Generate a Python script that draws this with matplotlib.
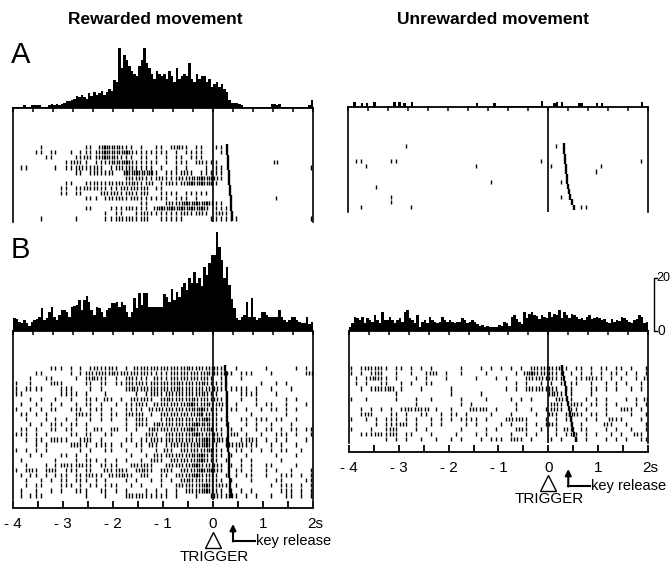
import numpy as np
import matplotlib
matplotlib.use('Agg')
import matplotlib.pyplot as plt

plt.rcParams['font.family'] = ['Liberation Sans', 'DejaVu Sans']

# ---- histograms (0.05 s bins from -4 s to 2 s, imp/s) ----
a_rew_hist = [
    0.5, 0.5, 0.5, 0.5, 1, 0.5, 0.5, 1, 1, 1, 1, 0.5, 0.5, 0.5, 1, 1.5, 1, 1.5, 1, 1.5,
    2, 2.5, 2.5, 3, 3.5, 4.5, 4, 5, 4, 3.5, 5.5, 4.5, 6, 5, 5.5, 6.5, 5, 6, 7, 6.5,
    10.5, 10, 22.6, 15, 20, 18, 16, 14, 13, 12, 16, 18, 22.6, 17, 15, 13, 11, 14, 13, 12,
    13, 11, 14, 12, 10, 15, 11, 12, 13, 12, 17, 11, 10, 13, 11, 12, 12, 10, 11, 8,
    9, 10, 8, 9, 7, 6, 3, 2, 2, 2, 1.5, 1, 0.5, 0.5, 0.5, 0.5, 0.5, 0.5, 0.5, 0.5,
    0.5, 0.5, 0.5, 1.5, 1.5, 1, 1.5, 0.5, 0.5, 0.5, 0.5, 0.5, 0.5, 0.5, 0.5, 0.5, 0.5, 0.5, 1, 3,
]
a_unrew_hist = [
    0, 0, 1.8, 0, 0, 1.5, 0, 1.5, 0, 0, 1.8, 0, 0, 0, 0, 0, 0, 0, 1.8, 0,
    1.8, 0, 1.5, 0, 0, 2, 0, 0, 0, 0, 0, 0, 0, 0, 0, 0, 0, 0, 0, 0,
    0, 0, 0, 0, 0, 0, 0, 0, 0, 0, 0, 1.5, 0, 0, 0, 0, 0, 0, 1.5, 0,
    0.3, 0.3, 0.3, 0.3, 0.3, 0.3, 0.3, 0.3, 0.3, 0.3, 0.3, 0.3, 0.3, 0.3, 0.3, 0.3, 0.3, 2.2, 0, 0,
    0, 0, 1.5, 1.8, 0, 2, 0, 0, 0, 0, 0, 0, 1.5, 1.5, 0, 0, 0, 0, 0, 1.5,
    0, 1.5, 0, 0, 0, 0, 0, 0, 0, 0, 0, 0, 0, 0, 0, 0, 0, 1.8, 0, 0,
]
b_rew_hist = [
    5, 4.5, 3.5, 3, 4, 3, 2, 3.5, 4, 4.5, 5.4, 8.8, 4, 5, 7.3, 9, 5.4, 4, 6, 8,
    8, 7, 5.4, 9.2, 9.4, 10, 11.7, 8, 11.7, 13.2, 11, 8, 6, 9, 8.6, 7, 5.4, 8, 8.6, 10.4,
    10.4, 11, 9.2, 11, 9.8, 7, 5.4, 7.3, 12.3, 8.6, 14.2, 9.8, 14.5, 14.5, 9, 9, 9, 9, 9, 9,
    14, 13, 11, 16, 11.7, 14.8, 13, 16.7, 18.2, 15.5, 19.9, 18, 22.4, 18, 19.9, 17, 24.3, 21, 25.5, 28.7,
    28.7, 37.5, 31.8, 26.8, 20, 24.3, 17.4, 12, 8.6, 4.8, 4.1, 5.4, 6, 11, 5.4, 12.3, 5.4, 4.1, 5, 7.3,
    7.3, 6, 5.2, 5.2, 5.2, 5.2, 8, 5.4, 4, 3.5, 4.1, 5.2, 5.2, 4.1, 3.5, 3, 2.9, 5.2, 2.6, 3.5,
]
b_unrew_hist = [
    1.6, 2.9, 5.4, 4.8, 4.0, 5.2, 2.9, 4.8, 4.1, 3.5, 6.0, 4.1, 3.0, 7.3, 4.0, 4.1, 5.2, 4.1, 3.0, 4.1,
    4.8, 3.5, 7.3, 8.0, 5.0, 4.1, 3.2, 6.0, 1.6, 3.5, 4.1, 2.9, 5.2, 4.1, 3.5, 3.0, 3.5, 5.4, 4.0, 3.5,
    4.1, 3.5, 2.9, 3.5, 3.5, 4.8, 4.1, 2.9, 3.5, 4.1, 3.5, 2.5, 1.9, 2.2, 1.6, 1.8, 1.6, 1.5, 1.4, 1.4,
    2.3, 1.9, 3.5, 2.9, 2.0, 5.2, 6.0, 4.5, 3.5, 2.6, 7.3, 5.0, 6.5, 7.3, 6.0, 5.5, 4.5, 6.0, 5.4, 5.0,
    7.3, 5.4, 6.5, 6.0, 8.0, 5.0, 7.3, 6.0, 4.8, 6.5, 6.0, 5.2, 4.5, 4.8, 4.1, 5.4, 6.0, 4.4, 4.8, 5.4,
    5.0, 4.1, 4.5, 3.5, 3.2, 4.5, 3.5, 4.1, 3.8, 5.4, 4.8, 4.1, 3.5, 3.0, 4.1, 4.5, 6.0, 5.4, 2.9, 3.5,
]

# ---- rasters: one string per trial, 0.1 s per char from -4 s; '|'=1, ':'=2, '#'=3 spikes ----
a_rew_rows = [
    ".....|.... ....||.:#: ::||.|..|| .|::|.||.. ||........ ..........",
    "....||.||. .|.||||:#: ::#:|||||| |.|.||||.. .|........ ..........",
    "......||.. ..||:||:#: :|||.||.|. |.||.|||.. .......... ..........",
    ".......... ||:||.|||: ::#:|||||. |.|||.|:|| |......... ..:.......",
    ".||.....|. |||:||:|.| |:|:||||.| ..|.|...|. ||........ .........|",
    ".......... ..||.|:||: ..#:#::#|. ||||:|.||| ||........ ..........",
    ".......... .......... ..|:|:|||: |||:|::#:# :|........ ..........",
    ".......... ||..||:||: |:|::||:.| |:||:#:#:# |......... ..........",
    ".........| |.||:|:||| ||:|:|:.|| .......... .......... ..........",
    ".........| |.||...|:| :||:||:..| |||.|||||. .......... ..........",
    ".......... ....|||.|: |:||:||||| |.|||.|... .......... ..|.......",
    ".......... .......... .....||... |:|:#:#:#: ||........ ..........",
    ".......... ....||...| |||:|||.:# :#:#:#:#:. |||....... ..........",
    ".......... ........|. ||..||:||| ||||:||:|. |:||...... ..........",
    ".....|.... ..|.....|| |:|:||:..| ||||.....| |||||..... .........|",
]
a_rew_release = [0.27, 0.28, 0.29, 0.29, 0.30, 0.31, 0.32, 0.32, 0.33, 0.34, 0.35, 0.35, 0.36, 0.37, 0.38]

a_unrew_rows = [
    ".......... .|........ .......... .......... .|........ ..........",
    ".......... .......... .......... .......... .......... ..........",
    ".......... .......... .......... .......... .......... ..........",
    ".||.....|| .......... .......... ........|. .......... ........|.",
    "...|...... .......... .....|.... .......... |......... |.........",
    ".......... .......... .......... .......... .........| ..........",
    ".......... .......... .......... .......... .......... ..........",
    ".......... .......... ........|. .......... ..|....... ..........",
    ".....|.... .......... .......... .......... .......... ..........",
    ".......... .......... .......... .......... .......... ..........",
    "........|. .......... .......... .......... ..|....... ..........",
    "........|. .......... .......... .......... .......... ..........",
    "..|....... ..|....... .......... .......... ......||.. ..........",
]
a_unrew_release = [0.31, 0.32, 0.33, 0.34, 0.35, 0.36, 0.37, 0.38, 0.40, 0.42, 0.44, 0.48, 0.52]

b_rew_rows = [
    ".......||| .|.|.|:||: |.|.:|:|:| :|:|::|:|: :|..|..... |.....|.|.",
    "....||.... .|.||:|:|: :|:|:|:||| ||:|:|:|:: :|:|.|||.. .|......|:",
    "...|..||.. ..|.|::||. |.|:|||.:| ||:|:|:|:| .|...|.... ..........",
    "|..|...|:| ....||.||. |||:|:||:| :|::|:|::| |||......| ..|.|.....",
    "|.||||...| ||...|.|.. ..|::|:|:| :|::|:|:|: :|.||||.|. .|...|....",
    "||.......| |||.|...|. ....|.||:| |:|:|:|::| |.|..||||. ..|.......|",
    "...|.|..|. .|..|||.:| .|.|:|:|.| ::|:|::|:| :||..|..|. ....|.|...",
    ".|..|..|.| ..|.||.|.. |.|||:|.:| :|:|:#:|:: |:|.|...|. ||..|...|.",
    "|..|.|.||. .|||.|||.| ..||||.:|: |:|:|::#:| ||.||.|..| .||.|.|...",
    ".||.|.|... ..|:||.|.| |.|:|:.|.| :|:|:|:#|: |......|.. ....|.....",
    "..|...|.|. |.|..|.|.| ..|.|:|..| |:|:|:|:#: ||...||.|| |.||..|...",
    "...|.|.||| .||.|..... ..|.|:|.:: |:|:|:#::: |.|...|.|. .|...|....",
    ".||.|..||. ||..|.:|.| :.|.|..::| :|:|:#:|:# ||.|.|..|. ||.|.||.||",
    "|||.|.|... .||.||..|| ...|..|:|. |:|:|:#:|: :|.|:.|..| ..|||.|..|",
    "..|.||.|:| |..|:|.|.. ..||.|||:| |:|:|:|:#: ::|..||:|. |.|.|...|.",
    "....|.|... .|:||.|||| .|..||.:|. ||:|:|::#: |.|:|:|||. .|.|..|...",
    "|.|.|.|... ...|.|..|| ..|..|..|. :|.|:|:|:# ||..||.|.| .|.||..|..",
    "...|.|...| |.|.|..... ...|..|.:| |:|:|::#:| ||.|..|... ..|...|...",
    ".|......|. ..|.|||.|. |.|..|.|:| .|:|:|:#:| |.|..|.|.. ...|......",
    "..|...|.|| :||:||.||| |..|:|:|.. |:|:|:#:|: :|.|.|.|.. ||....|...",
    "|.|:|.|:|. |||.||..:| |:|.|::|.| :|.|:|:#:# :|..||.|.. |.|..|...|",
    ".|.||.|.|| |.|||:||.: |::|.|:..| |.|:|:#:|: |.|.|.||.. |..|||.|.|",
    "..|..|.|.| |.|||.|.|. ..|.|..|.| .|.|::|:|: ||.|...|.. ..||....||",
    "..|.||...| ||.|.||.|| |..|.|...| ..|:|:|:#: |:|.|..... .|.|||.|.|",
    ".|..|..|.| ..|||..||. |.|...|.|. |.|.|:|:#: ||.|.|.|.. ...|||.|.|",
    ".|.|||.... ....|...|. ..|:|:|||| |.|...|..| :||:|.|.|. .|..||.|.|",
]
b_rew_release = [0.24, 0.25, 0.25, 0.26, 0.26, 0.27, 0.27, 0.27, 0.28, 0.28, 0.28, 0.29, 0.29,
                 0.29, 0.30, 0.30, 0.30, 0.31, 0.31, 0.31, 0.32, 0.32, 0.33, 0.33, 0.34, 0.35]

b_unrew_rows = [
    "|.|:|:||.| |.|.|.|... ..|...|.|. |.|.|.|:|: :|:|.||.|. ||.||.|..|",
    "|.|.|:|..| ..|..|:|.| ..|....|.. ...|.:#:|: :||.|.|.|. |.||.|.|.|",
    ".|.|::||.| ...|.|...| .....|...| .|...|:|:| :||..|||:| |.|.|..|.:",
    ".|.|..||.. |.|..||... .......... ...|.|..|. |.|.||..|. .|.|.|..|.",
    "..|.|:|::. |...|..... |......... .|.|.|:|:| :|.||...|| .|.|..|.|.",
    ".........| .......... |.....|... .......... ::|.|...|. ..........",
    "|..|.....| ...|..|... ..|....|.. ..|.|.|... .|:||..|.| .|...|.|.:",
    ".......... ...|...... ..|.|..... ...|...... |:|.|:|.|| .|.|...|.|",
    "..|.|.|.|. |:|:|:.|.. |...:|:|.| ...|..|..| |:|.||.|.. .|..|:|.|.",
    "..|:|...|| .|..||..|. ||.|....|. ..|....|.. :|.|::|.|| .|....|..|",
    "|..|.|.||| .|.|..|.|. |.||||.|.. .|:|:|...| .|.||..|.| ..:||...|.",
    ".....|.||| :|.|..|.|. ...|.|.... |.|..|.|.| :|..|.|... .:|..|...|",
    "|...|..|:| ...|.|.... ..|....|.| ...|:|..|. .|.:|.||.. .|.|..|..|",
    "..|||:||:| .||...|... .|...|.|.. ..|..|.|.. .|.|||.|.| ..|.|..:|.",
    ".......|.| .|..|..|.. |.|...|.|| |.|:|.|... |.|..|.|.. .|.|.|..||",
]
b_unrew_release = [0.28, 0.30, 0.31, 0.33, 0.35, 0.36, 0.38, 0.40, 0.42, 0.44, 0.46, 0.48, 0.50, 0.52, 0.55]

time_labels = ['- 4', '- 3', '- 2', '- 1', '0', '1', '2s']
time_label_pos = [-4, -3, -2, -1, 0, 1, 2]

W, H = 670, 568
fig = plt.figure(figsize=(W / 100, H / 100), dpi=100)

BIN = 0.05
PX_PER_UNIT = 2.65
ROW_STEP = 5.1


def box(x0, y0, x1, y1):
    return fig.add_axes([x0 / W, 1 - y1 / H, (x1 - x0) / W, (y1 - y0) / H])


def spike_times(row):
    s = row.replace(' ', '').ljust(60, '.')[:60]
    out = []
    for i, c in enumerate(s):
        n = {'|': 1, ':': 2, '#': 3}.get(c, 0)
        if n == 0:
            continue
        centre = -4 + 0.1 * i + 0.05
        out.extend(centre + np.linspace(-0.03, 0.03, n) if n > 1 else [centre])
    return out


def draw_hist(x0, x1, top, base, vals):
    ax = box(x0, top, x1, base)
    edges = -4 + BIN * np.arange(len(vals) + 1)
    ax.stairs(vals, edges, fill=True, color='k', lw=0)
    ax.set_xlim(-4, 2)
    ax.set_ylim(0, (base - top) / PX_PER_UNIT)
    for s in ['top', 'left', 'right']:
        ax.spines[s].set_visible(False)
    ax.spines['bottom'].set_linewidth(1.3)
    ax.set_xticks(np.arange(-4, 2.01, 0.4))
    ax.set_xticklabels([])
    ax.set_yticks([])
    ax.tick_params(axis='x', direction='out', length=3, width=1.1)
    ax.patch.set_alpha(0)
    return ax


def draw_raster(x0, x1, top, bottom, rows, release, first_row):
    ax = box(x0, top, x1, bottom)
    ax.set_xlim(-4, 2)
    ax.set_ylim(bottom - top, 0)
    for s in ['top', 'bottom']:
        ax.spines[s].set_visible(False)
    for s in ['left', 'right']:
        ax.spines[s].set_linewidth(1.2)
    ax.set_xticks([])
    ax.set_yticks([])
    ax.axvline(0, color='k', lw=1.2)
    for k, row in enumerate(rows):
        y = first_row - top + k * ROW_STEP
        ax.vlines(spike_times(row), y - 2.1, y + 2.1, color='k', lw=1.0)
        ax.vlines(release[k], y - 2.6, y + 2.6, color='k', lw=1.7)
    ax.patch.set_alpha(0)
    return ax


def draw_time_axis(x0, x1, y):
    ax = box(x0, y - 1, x1, y)
    for s in ['top', 'left', 'right']:
        ax.spines[s].set_visible(False)
    ax.spines['bottom'].set_linewidth(1.3)
    ax.set_xlim(-4, 2)
    ax.set_xticks(np.arange(-4, 2.01, 0.5))
    ax.set_xticklabels([])
    ax.set_yticks([])
    ax.tick_params(axis='x', direction='in', length=5, width=1.3)
    ax.patch.set_alpha(0)


# panel A
draw_hist(13, 313, 40, 108, a_rew_hist)
draw_raster(13, 313, 108, 222, a_rew_rows, a_rew_release, 147)
draw_hist(348, 648, 40, 107, a_unrew_hist)
draw_raster(348, 648, 107, 212, a_unrew_rows, a_unrew_release, 146)

# panel B
draw_hist(13, 313, 225, 331, b_rew_hist)
draw_raster(13, 313, 331, 500, b_rew_rows, b_rew_release, 368)
draw_time_axis(13, 313, 508)
draw_hist(349, 648, 225, 331, b_unrew_hist)
draw_raster(349, 648, 331, 443, b_unrew_rows, b_unrew_release, 368)
draw_time_axis(349, 648, 452)

# overlay for text and annotations, in pixel units
ov = fig.add_axes([0, 0, 1, 1])
ov.set_xlim(0, W)
ov.set_ylim(H, 0)
ov.axis('off')
ov.patch.set_alpha(0)

ov.text(155, 19, 'Rewarded movement', ha='center', va='center', fontsize=12.5, fontweight='bold')
ov.text(493, 19, 'Unrewarded movement', ha='center', va='center', fontsize=12.5, fontweight='bold')
ov.text(11, 63, 'A', ha='left', va='baseline', fontsize=21)
ov.text(11, 258, 'B', ha='left', va='baseline', fontsize=21)


def t2px(x0, x1, t):
    return x0 + (t + 4) * (x1 - x0) / 6


for (x0, x1, y_axis, y_tri, y_trig, y_key) in [(13, 313, 508, 540, 557, 541), (349, 648, 452, 483, 499, 486)]:
    for t, lab in zip(time_label_pos, time_labels):
        xp = t2px(x0, x1, t)
        if lab.endswith('s'):
            ov.text(xp - 6, y_axis + 9, lab, ha='left', va='top', fontsize=11)
        else:
            ov.text(xp, y_axis + 9, lab, ha='center', va='top', fontsize=11)
    x_trig = t2px(x0, x1, 0)
    ov.plot([x_trig], [y_tri], marker='^', ms=11, mfc='white', mec='k', mew=1)
    ov.text(x_trig + 1, y_trig, 'TRIGGER', ha='center', va='center', fontsize=11)
    x_key = t2px(x0, x1, 0.4)
    ov.annotate('', xy=(x_key, y_key - 17), xytext=(x_key, y_key + 0.5),
                arrowprops=dict(arrowstyle='-|>', lw=1.5, color='k', mutation_scale=9,
                                shrinkA=0, shrinkB=0))
    ov.plot([x_key, x_key + 22], [y_key, y_key], color='k', lw=1.5)
    ov.text(x_key + 23, y_key, 'key release', ha='left', va='center', fontsize=10.5)

# scale bar (20 imp/s)
sb_x, sb_top, sb_bot = 654, 331 - 20 * PX_PER_UNIT, 331
ov.plot([sb_x + 3, sb_x, sb_x, sb_x + 3], [sb_top, sb_top, sb_bot, sb_bot], color='k', lw=1)
ov.text(sb_x + 2.5, sb_top, '20', ha='left', va='center', fontsize=9)
ov.text(sb_x + 3, sb_bot, '0', ha='left', va='center', fontsize=10)

fig.savefig('out.png', dpi=100)
